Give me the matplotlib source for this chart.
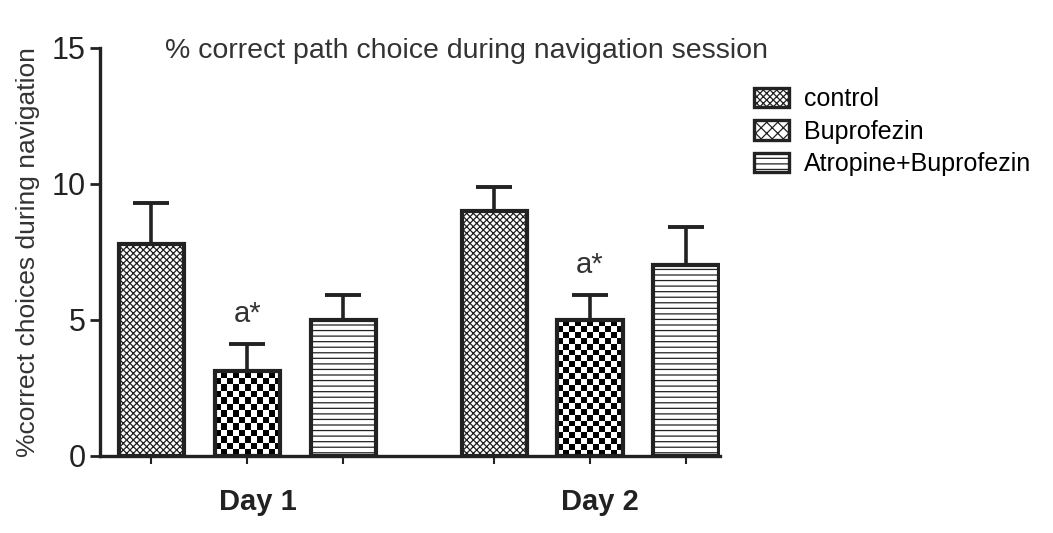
import matplotlib.pyplot as plt
import numpy as np
from matplotlib.patches import Patch

plt.rcParams['font.family'] = ['Liberation Sans', 'DejaVu Sans']
plt.rcParams['hatch.linewidth'] = 0.9
plt.rcParams['hatch.color'] = "#222222"

days = ["Day 1", "Day 2"]
groups = ["control", "Buprofezin", "Atropine+Buprofezin"]
control_mean = [7.8, 9.0]
control_sem = [1.5, 0.9]
bupro_mean = [3.1, 5.0]
bupro_sem = [1.0, 0.9]
atro_mean = [5.0, 7.0]
atro_sem = [0.9, 1.4]
sig_marks = ["", "a*", ""]

means = [control_mean, bupro_mean, atro_mean]
sems = [control_sem, bupro_sem, atro_sem]
hatches = ["xxxxx", None, "---"]


def checker_fill(ax, bar, ncols=11):
    # checkerboard texture clipped to the bar outline
    x0, y0 = bar.get_x(), bar.get_y()
    w, h = bar.get_width(), bar.get_height()
    ny = int(round(ncols * h / w * 1.02))
    board = (np.add.outer(np.arange(ny), np.arange(ncols)) % 2).astype(float)
    im = ax.imshow(board, cmap="gray", extent=(x0, x0 + w, y0, y0 + h),
                   aspect="auto", interpolation="nearest", zorder=2)
    im.set_clip_path(bar)


fig = plt.figure(figsize=(10.53, 5.33), dpi=100)
ax = fig.add_axes([0.095, 0.145, 0.589, 0.765])

x = np.arange(len(days))
offsets = [-0.28, 0.0, 0.28]
width = 0.19

for i, name in enumerate(groups):
    pos = x + offsets[i]
    bars = ax.bar(pos, means[i], width, color="white", edgecolor="#222222",
                  linewidth=3, hatch=hatches[i], zorder=3)
    if hatches[i] is None:
        for b in bars:
            b.set_facecolor("none")
            checker_fill(ax, b)
    ax.errorbar(pos, means[i], yerr=[np.zeros(len(days)), sems[i]], fmt="none",
                ecolor="#222222", elinewidth=2.6, capsize=13, capthick=2.8, zorder=4)
    if sig_marks[i]:
        for p, m, s in zip(pos, means[i], sems[i]):
            ax.text(p, m + s + 0.6, sig_marks[i], ha="center", va="bottom",
                    fontsize=21, color="#333333")

ax.set_xlim(-0.43, 1.38)
ax.set_ylim(0, 15)
ax.set_yticks([0, 5, 10, 15])
ax.set_xticks(np.concatenate([x + o for o in offsets]))
ax.set_xticklabels([])
for d, xc in zip(days, x):
    ax.text(xc + 0.03, -1.2, d, ha="center", va="top", fontsize=21, fontweight="bold",
            color="#222222")
ax.tick_params(axis="y", labelsize=22, width=2, length=7, colors="#222222")
ax.tick_params(axis="x", width=1.5, length=6, colors="#222222")
for side in ["top", "right"]:
    ax.spines[side].set_visible(False)
for side in ["left", "bottom"]:
    ax.spines[side].set_linewidth(2.4)
    ax.spines[side].set_color("#222222")

ax.set_ylabel("%correct choices during navigation", fontsize=19, color="#333333", labelpad=8)
fig.text(0.157, 0.905, "% correct path choice during navigation session", fontsize=20.5,
         color="#333333", ha="left", va="center")

handles = [Patch(facecolor="white", edgecolor="#222222", hatch="xxxxx", linewidth=2.4),
           Patch(facecolor="white", edgecolor="#222222", hatch="xxx", linewidth=2.4),
           Patch(facecolor="white", edgecolor="#222222", hatch="---", linewidth=2.4)]
fig.legend(handles, groups, loc="upper left", bbox_to_anchor=(0.695, 0.879), frameon=False,
           fontsize=18, handlelength=1.4, handleheight=0.8, labelspacing=0.35,
           handletextpad=0.6)

fig.savefig("out.png", dpi=100)
